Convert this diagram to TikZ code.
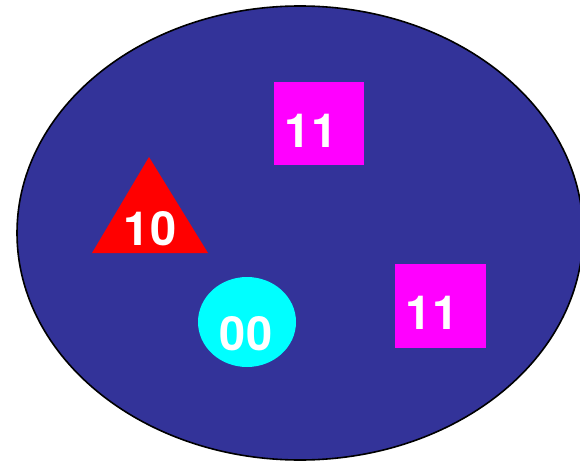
\documentclass[tikz,border=0pt]{standalone}
\usepackage{fontspec}
\newfontfamily\arialb{TeX Gyre Heros}
\definecolor{setblue}{HTML}{333399}
\definecolor{mag}{HTML}{FF00FF}
\definecolor{cy}{HTML}{00FFFF}
\definecolor{rd}{HTML}{FF0000}
\tikzset{lbl/.style={text=white,font=\arialb\bfseries\fontsize{47}{47}\selectfont,inner sep=0pt}}
\begin{document}
\begin{tikzpicture}[x=1pt,y=-1pt]
\useasboundingbox (0,0) rectangle (580,462);
\begin{scope}
\clip (0,0) rectangle (580,462);
\draw[fill=setblue,line width=1.6pt] (300,233) ellipse [x radius=283, y radius=227];
\end{scope}
\fill[mag] (274,82) rectangle (364,165);
\fill[mag] (395,264) rectangle (486,348);
\fill[rd] (149,157) -- (208,253) -- (92,253) -- cycle;
\fill[cy] (247,322) ellipse [x radius=49, y radius=45];
\node[lbl] (a) at (311,131) {11};
\node[lbl] (b) at (432,313) {11};
\node[lbl] (c) at (150,229) {10};
\node[lbl] (d) at (246,334) {00};
\end{tikzpicture}
\end{document}
